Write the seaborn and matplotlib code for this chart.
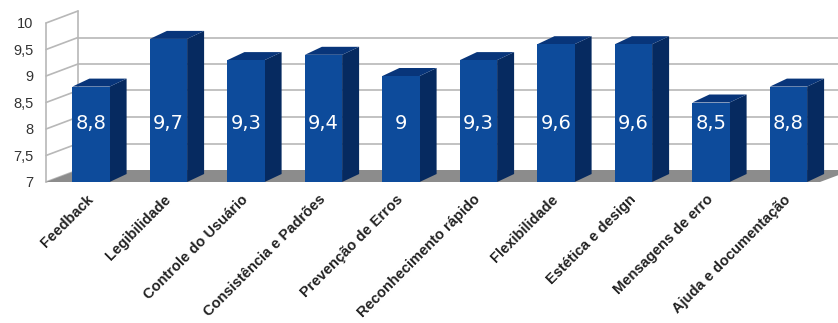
import numpy as np
import pandas as pd
import seaborn as sns
import matplotlib.pyplot as plt
from matplotlib.patches import Polygon

sns.set_style("white")
plt.rcParams['font.family'] = ['Liberation Sans', 'DejaVu Sans']

categorias = ['Feedback', 'Legibilidade', 'Controle do Usuário', 'Consistência e Padrões',
              'Prevenção de Erros', 'Reconhecimento rápido', 'Flexibilidade',
              'Estética e design', 'Mensagens de erro', 'Ajuda e documentação']
notas = [8.8, 9.7, 9.3, 9.4, 9.0, 9.3, 9.6, 9.6, 8.5, 8.8]
rotulos = ['8,8', '9,7', '9,3', '9,4', '9', '9,3', '9,6', '9,6', '8,5', '8,8']
yticks = [7, 7.5, 8, 8.5, 9, 9.5, 10]
ytick_labels = ['7', '7,5', '8', '8,5', '9', '9,5', '10']

# geometria em pixels (figura 838x323, dpi 100)
W, H = 838, 323
px_left, px_right, px_top, px_bot = 46, 820, 23, 182
px_x0, px_step = 91, 77.5
xmin = (px_left - px_x0) / px_step
xmax = (px_right - px_x0) / px_step
ymin, ymax = 7, 10
py_unit = (px_bot - px_top) / (ymax - ymin)

# profundidade (parede do fundo e lateral das barras)
ddx, ddy = 32 / px_step, 12 / py_unit
sdx, sdy = 17 / px_step, 8 / py_unit
largura = 0.48

cor_frente = '#0d4b9b'
cor_lado = '#062a60'
cor_topo = '#08357a'
cor_piso = '#8c8c8c'
cor_grade = '#b8b8b8'

fig = plt.figure(figsize=(W / 100, H / 100), dpi=100)
ax = fig.add_axes([px_left / W, (H - px_bot) / H, (px_right - px_left) / W, (px_bot - px_top) / H])

sns.barplot(x=categorias, y=notas, color=cor_frente, saturation=1, width=largura,
            linewidth=0, ax=ax, zorder=4)
ax.set_xlim(xmin, xmax)
ax.set_ylim(ymin, ymax)

# parede lateral e grade
for t in yticks:
    ax.plot([xmin, xmin + ddx], [t, t + ddy], color=cor_grade, lw=1.2, clip_on=False, zorder=1)
ax.plot([xmin, xmin], [ymin, ymax], color=cor_grade, lw=1.2, clip_on=False, zorder=1)
ax.plot([xmin + ddx] * 2, [ymin + ddy, ymax + ddy], color=cor_grade, lw=1.2, clip_on=False, zorder=1)
for t in yticks[1:-1]:
    ax.plot([xmin + ddx, xmax + ddx + 0.5], [t + ddy, t + ddy], color=cor_grade, lw=1.2,
            clip_on=False, zorder=1)

# piso
piso = Polygon([(xmin, ymin), (xmax, ymin), (xmax + ddx, ymin + ddy), (xmin + ddx, ymin + ddy)],
               closed=True, facecolor=cor_piso, edgecolor='none', clip_on=False, zorder=2)
ax.add_patch(piso)

# faces laterais e topo das barras
for i, v in enumerate(notas):
    xl, xr = i - largura / 2, i + largura / 2
    lado = Polygon([(xr, ymin), (xr + sdx, ymin + sdy), (xr + sdx, v + sdy), (xr, v)],
                   closed=True, facecolor=cor_lado, edgecolor='none', clip_on=False, zorder=3)
    topo = Polygon([(xl, v), (xr, v), (xr + sdx, v + sdy), (xl + sdx, v + sdy)],
                   closed=True, facecolor=cor_topo, edgecolor='none', clip_on=False, zorder=3)
    ax.add_patch(lado)
    ax.add_patch(topo)
    ax.text(i, 8.1, rotulos[i], color='white', ha='center', va='center', fontsize=14,
            family='DejaVu Sans', zorder=6)

ax.set_yticks(yticks, ytick_labels)
ax.set_xticks(range(len(categorias)), categorias, rotation=45, ha='right', va='center',
              rotation_mode='anchor', fontweight='bold', fontsize=10.5, color='#222222')
ax.tick_params(axis='y', length=0, pad=9, labelsize=10.5, labelcolor='#333333')
ax.tick_params(axis='x', length=0, pad=11)
ax.set_xlabel('')
ax.set_ylabel('')
for s in ax.spines.values():
    s.set_visible(False)
ax.patch.set_alpha(0)

fig.savefig('out.png', dpi=100)
